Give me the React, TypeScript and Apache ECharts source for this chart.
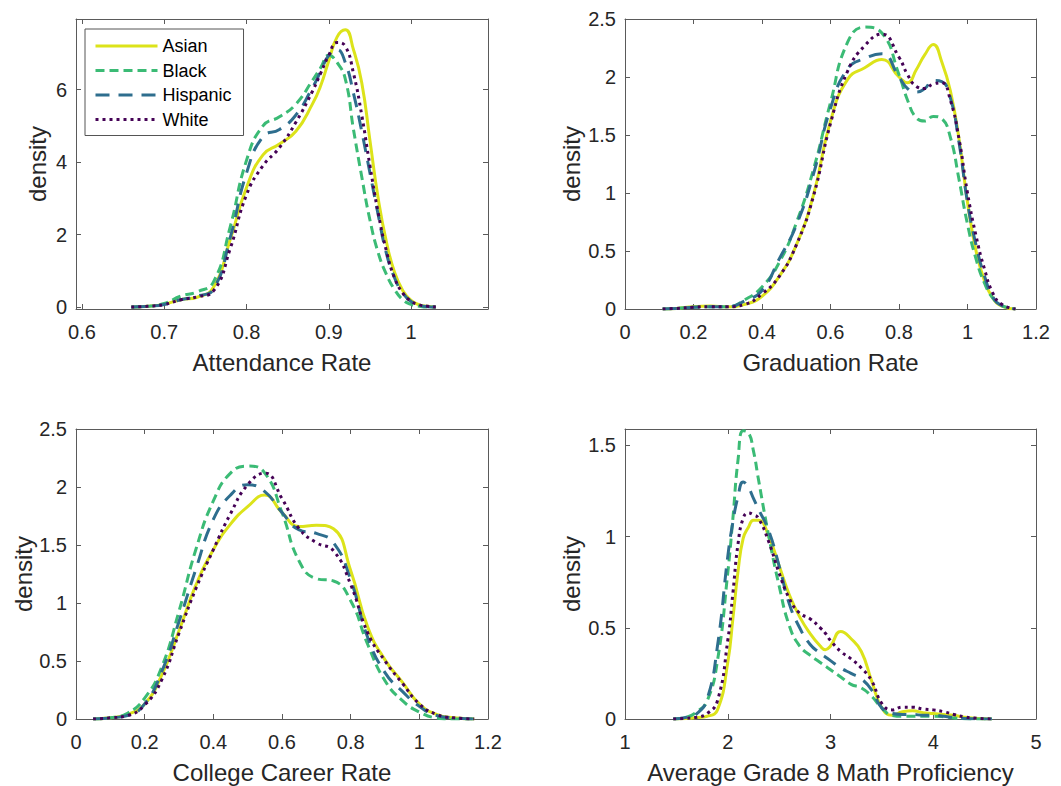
import React, { useEffect, useRef } from "react";
import * as echarts from "echarts";

// ---------- data ----------
const groups = ["Asian", "Black", "Hispanic", "White"];

// Panel 1: Attendance Rate
const attX = [0.66, 0.68, 0.70, 0.72, 0.74, 0.76, 0.78, 0.80, 0.82, 0.84, 0.86, 0.88, 0.89, 0.90, 0.91, 0.92, 0.93, 0.94, 0.95, 0.96, 0.97, 0.98, 0.99, 1.00, 1.01, 1.02, 1.03];
const attAsian = [0, 0.02, 0.08, 0.2, 0.27, 0.55, 1.85, 3.3, 4.2, 4.5, 4.85, 5.6, 6.1, 6.8, 7.45, 7.65, 7.1, 6.2, 4.6, 3.0, 1.8, 0.95, 0.45, 0.18, 0.06, 0.02, 0];
const attBlack = [0, 0.02, 0.1, 0.3, 0.42, 0.7, 2.2, 4.05, 5.0, 5.25, 5.6, 6.25, 6.6, 6.95, 6.75, 6.3, 4.9, 3.6, 2.4, 1.5, 0.9, 0.48, 0.2, 0.07, 0.02, 0, 0];
const attHispanic = [0, 0.02, 0.07, 0.2, 0.3, 0.5, 1.9, 3.7, 4.7, 4.9, 5.3, 6.05, 6.5, 6.95, 7.1, 6.75, 5.9, 4.85, 3.7, 2.55, 1.48, 0.8, 0.38, 0.15, 0.05, 0.01, 0];
const attWhite = [0, 0.02, 0.07, 0.2, 0.28, 0.45, 1.6, 3.1, 3.9, 4.4, 5.1, 5.95, 6.45, 6.95, 7.3, 7.2, 6.45, 5.3, 3.9, 2.6, 1.55, 0.8, 0.38, 0.16, 0.06, 0.02, 0];

// Panel 2: Graduation Rate
const gradX = [0.11, 0.15, 0.2, 0.25, 0.3, 0.35, 0.4, 0.45, 0.5, 0.55, 0.6, 0.65, 0.7, 0.75, 0.8, 0.825, 0.85, 0.875, 0.9, 0.925, 0.95, 0.975, 1.0, 1.025, 1.05, 1.075, 1.1, 1.14];
const gradAsian = [0, 0.005, 0.02, 0.025, 0.02, 0.04, 0.11, 0.28, 0.55, 0.98, 1.62, 1.98, 2.08, 2.15, 2.0, 1.95, 2.06, 2.19, 2.28, 2.13, 1.88, 1.47, 0.92, 0.5, 0.24, 0.09, 0.025, 0];
const gradBlack = [0, 0.005, 0.015, 0.02, 0.02, 0.08, 0.19, 0.4, 0.74, 1.2, 1.78, 2.3, 2.43, 2.38, 2.02, 1.8, 1.65, 1.62, 1.66, 1.64, 1.48, 1.12, 0.73, 0.43, 0.22, 0.09, 0.03, 0];
const gradHispanic = [0, 0.005, 0.015, 0.02, 0.02, 0.07, 0.16, 0.43, 0.72, 1.16, 1.73, 2.07, 2.16, 2.2, 2.0, 1.9, 1.87, 1.9, 1.97, 1.96, 1.82, 1.44, 0.92, 0.55, 0.28, 0.1, 0.03, 0];
const gradWhite = [0, 0.005, 0.015, 0.02, 0.02, 0.04, 0.13, 0.28, 0.55, 0.97, 1.6, 2.05, 2.27, 2.37, 2.17, 2.02, 1.92, 1.9, 1.94, 1.95, 1.8, 1.47, 1.0, 0.63, 0.34, 0.13, 0.04, 0];

// Panel 3: College Career Rate
const ccrX = [0.05, 0.1, 0.15, 0.2, 0.25, 0.3, 0.35, 0.4, 0.45, 0.5, 0.55, 0.6, 0.65, 0.7, 0.75, 0.8, 0.85, 0.9, 0.95, 1.0, 1.05, 1.1, 1.16];
const ccrAsian = [0, 0.01, 0.04, 0.13, 0.38, 0.76, 1.16, 1.46, 1.68, 1.83, 1.93, 1.78, 1.66, 1.67, 1.64, 1.28, 0.79, 0.51, 0.32, 0.13, 0.04, 0.01, 0];
const ccrBlack = [0, 0.01, 0.05, 0.18, 0.45, 0.93, 1.47, 1.88, 2.12, 2.18, 2.12, 1.78, 1.36, 1.21, 1.19, 1.02, 0.64, 0.33, 0.16, 0.06, 0.01, 0, 0];
const ccrHispanic = [0, 0.01, 0.03, 0.13, 0.41, 0.84, 1.3, 1.72, 1.93, 2.02, 1.96, 1.78, 1.63, 1.6, 1.52, 1.2, 0.7, 0.4, 0.24, 0.11, 0.03, 0.01, 0];
const ccrWhite = [0, 0.01, 0.03, 0.12, 0.34, 0.74, 1.13, 1.46, 1.77, 2.02, 2.12, 1.9, 1.64, 1.52, 1.45, 1.16, 0.74, 0.5, 0.31, 0.13, 0.04, 0.01, 0];

// Panel 4: Average Grade 8 Math Proficiency
const mathX = [1.47, 1.6, 1.7, 1.8, 1.9, 2.0, 2.05, 2.1, 2.15, 2.2, 2.25, 2.3, 2.4, 2.5, 2.6, 2.7, 2.8, 2.9, 2.95, 3.0, 3.1, 3.2, 3.3, 3.4, 3.5, 3.6, 3.7, 3.8, 3.9, 4.0, 4.1, 4.2, 4.3, 4.4, 4.57];
const mathAsian = [0, 0.003, 0.008, 0.015, 0.05, 0.31, 0.55, 0.81, 0.99, 1.05, 1.09, 1.09, 1.0, 0.84, 0.68, 0.56, 0.47, 0.4, 0.38, 0.4, 0.48, 0.44, 0.37, 0.21, 0.06, 0.02, 0.04, 0.045, 0.035, 0.03, 0.025, 0.02, 0.01, 0.004, 0];
const mathBlack = [0, 0.01, 0.04, 0.1, 0.32, 0.8, 1.1, 1.42, 1.58, 1.57, 1.47, 1.31, 1.0, 0.73, 0.51, 0.4, 0.35, 0.31, 0.29, 0.27, 0.23, 0.19, 0.17, 0.125, 0.06, 0.02, 0.015, 0.015, 0.015, 0.015, 0.012, 0.005, 0.002, 0, 0];
const mathHispanic = [0, 0.01, 0.03, 0.11, 0.4, 0.89, 1.08, 1.22, 1.3, 1.27, 1.21, 1.15, 1.03, 0.84, 0.63, 0.5, 0.41, 0.36, 0.34, 0.32, 0.28, 0.25, 0.22, 0.16, 0.06, 0.03, 0.025, 0.025, 0.02, 0.02, 0.015, 0.008, 0.003, 0.001, 0];
const mathWhite = [0, 0.004, 0.01, 0.03, 0.1, 0.43, 0.69, 0.96, 1.1, 1.13, 1.12, 1.1, 0.97, 0.8, 0.66, 0.58, 0.55, 0.5, 0.47, 0.43, 0.37, 0.33, 0.28, 0.21, 0.085, 0.05, 0.065, 0.065, 0.055, 0.05, 0.04, 0.025, 0.012, 0.005, 0];

// tick values
const attXTicks = [0.6, 0.7, 0.8, 0.9, 1];
const attYTicks = [0, 2, 4, 6];
const rateXTicks = [0, 0.2, 0.4, 0.6, 0.8, 1, 1.2];
const rateYTicks = [0, 0.5, 1, 1.5, 2, 2.5];
const mathXTicks = [1, 2, 3, 4, 5];
const mathYTicks = [0, 0.5, 1, 1.5];

// ---------- styles ----------
const FONT = '"Liberation Sans", Arial, Helvetica, sans-serif';
const TXT = "#262626";
const AXLINE = "#5a5a5a";
const colors = ["#DCE31A", "#3BBB75", "#2E6E8E", "#450256"];
const dashes: any[] = ["solid", [9, 5], [14, 9], [3, 4]];

type Panel = {
  x: number[];
  ys: number[][];
  xMin: number; xMax: number; yMin: number; yMax: number;
  xTicks: number[]; yTicks: number[];
  xName: string;
  yNameGap: number;
  grid: { left: number; top: number; width: number; height: number };
};

const panels: Panel[] = [
  {
    x: attX, ys: [attAsian, attBlack, attHispanic, attWhite],
    xMin: 0.5927, xMax: 1.0935, yMin: -0.055, yMax: 7.95,
    xTicks: attXTicks, yTicks: attYTicks, xName: "Attendance Rate", yNameGap: 27,
    grid: { left: 76, top: 19, width: 412, height: 290 },
  },
  {
    x: gradX, ys: [gradAsian, gradBlack, gradHispanic, gradWhite],
    xMin: 0, xMax: 1.2, yMin: 0, yMax: 2.5,
    xTicks: rateXTicks, yTicks: rateYTicks, xName: "Graduation Rate", yNameGap: 42,
    grid: { left: 625, top: 19, width: 411, height: 290 },
  },
  {
    x: ccrX, ys: [ccrAsian, ccrBlack, ccrHispanic, ccrWhite],
    xMin: 0, xMax: 1.2, yMin: 0, yMax: 2.5,
    xTicks: rateXTicks, yTicks: rateYTicks, xName: "College Career Rate", yNameGap: 41,
    grid: { left: 76, top: 429, width: 412, height: 290 },
  },
  {
    x: mathX, ys: [mathAsian, mathBlack, mathHispanic, mathWhite],
    xMin: 1, xMax: 5, yMin: 0, yMax: 1.59,
    xTicks: mathXTicks, yTicks: mathYTicks, xName: "Average Grade 8 Math Proficiency", yNameGap: 42,
    grid: { left: 625, top: 429, width: 411, height: 290 },
  },
];

function buildOption() {
  const grid: any[] = [];
  const xAxis: any[] = [];
  const yAxis: any[] = [];
  const series: any[] = [];
  const lineStyle = { color: AXLINE, width: 1 };
  const labelStyle = { fontSize: 20, color: TXT, fontFamily: FONT };

  panels.forEach((p, i) => {
    grid.push({ ...p.grid, containLabel: false });
    xAxis.push({
      type: "value", gridIndex: i, position: "bottom", min: p.xMin, max: p.xMax,
      name: p.xName, nameLocation: "middle", nameGap: 41,
      nameTextStyle: { fontSize: 24, color: TXT, fontFamily: FONT },
      axisLine: { show: true, onZero: false, lineStyle },
      axisTick: { show: true, inside: true, length: 5, customValues: p.xTicks, lineStyle },
      axisLabel: { show: true, customValues: p.xTicks, margin: 13, ...labelStyle, formatter: (v: number) => String(v) },
      splitLine: { show: false },
    });
    xAxis.push({
      type: "value", gridIndex: i, position: "top", min: p.xMin, max: p.xMax,
      axisLine: { show: true, onZero: false, lineStyle },
      axisTick: { show: true, inside: true, length: 5, customValues: p.xTicks, lineStyle },
      axisLabel: { show: false },
      splitLine: { show: false },
    });
    yAxis.push({
      type: "value", gridIndex: i, position: "left", min: p.yMin, max: p.yMax,
      name: "density", nameLocation: "middle", nameGap: p.yNameGap,
      nameTextStyle: { fontSize: 24, color: TXT, fontFamily: FONT },
      axisLine: { show: true, onZero: false, lineStyle },
      axisTick: { show: true, inside: true, length: 5, customValues: p.yTicks, lineStyle },
      axisLabel: { show: true, customValues: p.yTicks, margin: 9, ...labelStyle, formatter: (v: number) => String(v) },
      splitLine: { show: false },
    });
    yAxis.push({
      type: "value", gridIndex: i, position: "right", min: p.yMin, max: p.yMax,
      axisLine: { show: true, onZero: false, lineStyle },
      axisTick: { show: true, inside: true, length: 5, customValues: p.yTicks, lineStyle },
      axisLabel: { show: false },
      splitLine: { show: false },
    });

    groups.forEach((g, k) => {
      series.push({
        type: "line",
        name: g,
        xAxisIndex: i * 2,
        yAxisIndex: i * 2,
        data: p.x.map((xv, j) => [xv, p.ys[k][j]]),
        showSymbol: false,
        symbol: "none",
        smooth: 0.5,
        clip: true,
        itemStyle: { color: colors[k] },
        lineStyle: { color: colors[k], width: 3, type: dashes[k], cap: "butt", join: "round" },
        emphasis: { disabled: true },
        z: 2 + k,
      });
    });
  });

  return {
    animation: false,
    backgroundColor: "#ffffff",
    grid,
    xAxis,
    yAxis,
    series,
    legend: {
      show: true,
      orient: "vertical",
      left: 85,
      top: 29,
      padding: [8, 12, 7, 9],
      itemGap: 6.5,
      itemWidth: 62,
      itemHeight: 14,
      backgroundColor: "#ffffff",
      borderColor: "#555555",
      borderWidth: 1,
      selectedMode: false,
      itemStyle: { opacity: 0, borderWidth: 0 },
      lineStyle: { width: 3 },
      textStyle: { fontSize: 18, color: "#000000", fontFamily: FONT },
      data: groups,
      z: 10,
    },
  };
}

export default function App() {
  const ref = useRef<HTMLDivElement>(null);
  useEffect(() => {
    if (!ref.current) return;
    const chart = echarts.init(ref.current, undefined, { renderer: "svg" });
    chart.setOption(buildOption() as any);
    return () => chart.dispose();
  }, []);
  return (
    <div
      ref={ref}
      style={{ position: "absolute", left: 0, top: 0, width: 1061, height: 786, background: "#fff" }}
    />
  );
}
